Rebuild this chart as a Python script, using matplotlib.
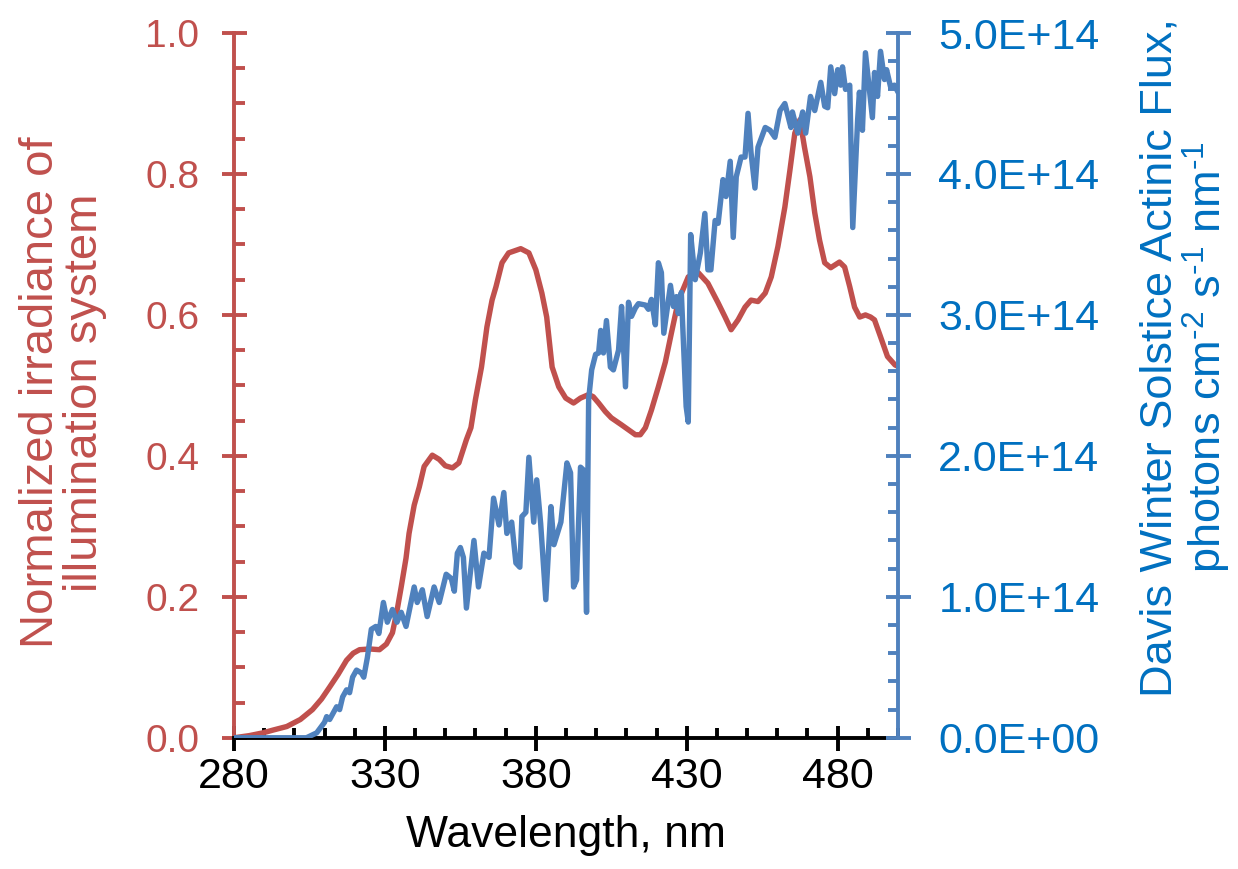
import matplotlib
matplotlib.use("Agg")
import matplotlib.pyplot as plt
from matplotlib.ticker import MultipleLocator, FuncFormatter

plt.rcParams['font.family'] = ['Liberation Sans', 'DejaVu Sans']
plt.rcParams['mathtext.fontset'] = 'custom'
plt.rcParams['mathtext.rm'] = 'Liberation Sans'
plt.rcParams['mathtext.it'] = 'Liberation Sans'

RED = '#C0504D'
BLUE = '#4F81BD'
BLUE_TXT = '#0070C0'

x_ticks = [280, 330, 380, 430, 480]

# illumination system, normalized irradiance
red_wl = [280, 285, 289.6, 293, 297.5, 302, 306, 309, 311.7, 314.5, 317.3, 319.5, 321.6, 325,
          328.2, 330.5, 332.5, 334, 335.4, 337, 338, 339.7, 341.4, 343, 345.7, 348, 350, 352.4,
          354.5, 357, 358.5, 360, 362, 363.8, 365.5, 366.8, 368.8, 371, 375, 377.7, 380, 382,
          383.6, 385.4, 387.6, 389.9, 392.5, 394.8, 397.5, 399, 400.8, 403, 405, 408.4, 410.7,
          413, 414.6, 416.3, 418.3, 420.6, 422.9, 424.9, 427.2, 430.5, 433.8, 437, 440.4, 442.7,
          444.7, 447, 449.3, 451.3, 453.6, 456, 458, 460.2, 462.5, 464.2, 465.8, 467.5, 469,
          470.8, 472.4, 474, 475.7, 477.7, 480.6, 482.3, 484, 485.6, 487.3, 489.2, 490.9, 492.2,
          494.2, 496.5, 499, 500]
red_val = [0.0, 0.003, 0.007, 0.011, 0.016, 0.026, 0.04, 0.055, 0.072, 0.09, 0.11, 0.12, 0.125,
           0.126, 0.125, 0.133, 0.149, 0.18, 0.214, 0.255, 0.29, 0.33, 0.356, 0.385, 0.401, 0.395,
           0.386, 0.383, 0.39, 0.423, 0.44, 0.48, 0.526, 0.583, 0.621, 0.64, 0.674, 0.688, 0.694,
           0.688, 0.664, 0.631, 0.597, 0.526, 0.498, 0.482, 0.475, 0.482, 0.487, 0.484, 0.475,
           0.463, 0.454, 0.444, 0.437, 0.43, 0.43, 0.44, 0.465, 0.498, 0.533, 0.574, 0.62, 0.654,
           0.66, 0.645, 0.617, 0.597, 0.579, 0.593, 0.611, 0.621, 0.619, 0.631, 0.654, 0.697,
           0.753, 0.806, 0.858, 0.877, 0.838, 0.796, 0.745, 0.706, 0.674, 0.667, 0.675, 0.668,
           0.64, 0.611, 0.597, 0.6, 0.597, 0.593, 0.569, 0.541, 0.529, 0.527]

# Davis winter solstice actinic flux, units of 1e14
blue_wl = [280, 290, 300, 304, 307.4, 310, 310.7, 311.7, 314, 315, 316, 317.3, 318.3, 319.3,
           320.6, 322.2, 323, 324.2, 325.5, 327, 328, 329.5, 330.8, 332.5, 334, 335.4, 337,
           339.7, 340.7, 342.4, 344, 346.3, 348, 350.3, 352, 353, 354, 355, 356, 357, 359.5, 361,
           362.8, 364.5, 366, 367.8, 369.4, 370.4, 372, 373.4, 374.7, 375.4, 376.7, 377.7, 379.3,
           380.3, 381.6, 383.3, 385, 386, 388.3, 390.3, 391.5, 392.5, 393.5, 394.8, 395.8, 396.8,
           397.5, 398.5, 399.8, 400.8, 401.5, 402.4, 403.4, 404.7, 405.7, 407.4, 408.4, 409.7,
           410.7, 411.7, 413, 414, 416.3, 417.3, 418.3, 419.6, 420.6, 421.6, 422.4, 424.6, 425.6,
           426.6, 427.2, 428.2, 429.8, 430.5, 431.3, 432.8, 434.5, 436, 437, 438, 439.4, 440.4,
           442, 443, 444.4, 445.4, 446.4, 448, 449.3, 450.3, 451.3, 452.6, 453.6, 456, 457.6,
           459.2, 460.9, 462.5, 464.5, 465, 466.8, 468.4, 469.4, 471, 472.4, 474.4, 475.7, 476.7,
           477.7, 479, 480, 481, 481.6, 482.6, 484, 485, 486.6, 487.2, 488.2, 489.2, 490.6, 491.5,
           492.2, 493.2, 494.2, 495.5, 496.2, 497.5, 498.8, 500]
blue_val = [0, 0, 0, 0, 0.035, 0.11, 0.15, 0.13, 0.22, 0.2, 0.29, 0.34, 0.32, 0.43, 0.48, 0.46,
            0.43, 0.57, 0.77, 0.79, 0.74, 0.96, 0.82, 0.91, 0.82, 0.89, 0.79, 1.07, 0.96, 1.05,
            0.86, 1.07, 0.96, 1.16, 1.13, 1.04, 1.31, 1.35, 1.28, 0.92, 1.40, 1.07, 1.31, 1.28,
            1.70, 1.51, 1.74, 1.45, 1.53, 1.24, 1.21, 1.57, 1.60, 1.99, 1.53, 1.83, 1.52, 0.98,
            1.64, 1.37, 1.53, 1.95, 1.88, 1.07, 1.12, 1.92, 1.90, 0.89, 2.40, 2.61, 2.72, 2.73,
            2.89, 2.73, 2.96, 2.63, 2.61, 2.75, 3.06, 2.49, 3.09, 2.99, 3.05, 3.08, 3.07, 3.04,
            3.11, 2.93, 3.37, 3.30, 2.87, 3.21, 3.06, 3.13, 3.01, 3.16, 2.35, 2.24, 3.57, 3.25,
            3.44, 3.72, 3.32, 3.32, 3.67, 3.65, 3.96, 3.84, 4.09, 3.55, 3.98, 4.12, 4.12, 4.43,
            4.15, 3.90, 4.19, 4.33, 4.31, 4.26, 4.45, 4.50, 4.33, 4.44, 4.29, 4.44, 4.29, 4.55,
            4.45, 4.65, 4.48, 4.47, 4.76, 4.57, 4.74, 4.63, 4.76, 4.60, 4.63, 3.62, 4.38, 4.58,
            4.31, 4.86, 4.58, 4.40, 4.72, 4.55, 4.87, 4.67, 4.74, 4.62, 4.63, 4.58]

fig = plt.figure(figsize=(12.38, 8.69), dpi=100)
ax = fig.add_axes([0.189, 0.151, 0.5364, 0.811])
ax2 = ax.twinx()

ax.plot(red_wl, red_val, color=RED, lw=3.9, solid_joinstyle='round', solid_capstyle='round')
ax2.plot(blue_wl, [v * 1e14 for v in blue_val], color=BLUE, lw=3.9,
         solid_joinstyle='round', solid_capstyle='round')

ax.set_xlim(280, 500)
ax.set_ylim(0, 1.0)
ax2.set_ylim(0, 5e14)

ax.set_xticks(x_ticks)
ax.set_xticklabels([str(t) for t in x_ticks])
ax.xaxis.set_minor_locator(MultipleLocator(10))
ax.yaxis.set_major_locator(MultipleLocator(0.2))
ax.yaxis.set_minor_locator(MultipleLocator(0.05))
ax.yaxis.set_major_formatter(FuncFormatter(lambda v, p: '%.1f' % v))
ax2.yaxis.set_major_locator(MultipleLocator(1e14))
ax2.yaxis.set_minor_locator(MultipleLocator(2e13))


def sci(v, p):
    if v == 0:
        return '0.0E+00'
    return '%.1fE+14' % (v / 1e14)


ax2.yaxis.set_major_formatter(FuncFormatter(sci))

for a in (ax, ax2):
    a.spines['top'].set_visible(False)
    for s in a.spines.values():
        s.set_linewidth(2.8)
ax.spines['right'].set_visible(False)
ax2.spines['left'].set_visible(False)
ax2.spines['bottom'].set_visible(False)
ax.spines['left'].set_color(RED)
ax.spines['bottom'].set_color('black')
ax2.spines['right'].set_color(BLUE)

ax.tick_params(axis='x', which='major', direction='inout', length=18, width=2.8, pad=5,
               labelsize=31, colors='black')
ax.tick_params(axis='x', which='minor', direction='in', length=7.5, width=2.8)
ax.tick_params(axis='y', which='major', direction='inout', length=18, width=2.8, pad=16,
               labelsize=28, colors=RED)
ax.tick_params(axis='y', which='minor', direction='in', length=8, width=2.8, colors=RED)
ax2.tick_params(axis='y', which='major', direction='inout', length=18, width=2.8, pad=20,
                labelsize=31, color=BLUE, labelcolor=BLUE_TXT)
ax2.tick_params(axis='y', which='minor', direction='in', length=7, width=2.8, color=BLUE)

ax.set_xlabel('Wavelength, nm', fontsize=32, labelpad=13)
ax.set_ylabel('Normalized irradiance of\nillumination system', fontsize=34, color=RED,
              linespacing=1.0)
ax.yaxis.set_label_coords(-0.191, 0.49)
ax2.set_ylabel('Davis Winter Solstice Actinic Flux,\n'
               r'photons cm$^{\text{-2}}$ s$^{\text{-1}}$ nm$^{\text{-1}}$', fontsize=32.5,
               color=BLUE_TXT, linespacing=1.0)
ax2.yaxis.set_label_coords(1.364, 0.54)

ax.set_zorder(ax2.get_zorder() - 1)
ax.patch.set_visible(False)
ax2.patch.set_visible(False)

fig.savefig('out.png', dpi=100)
